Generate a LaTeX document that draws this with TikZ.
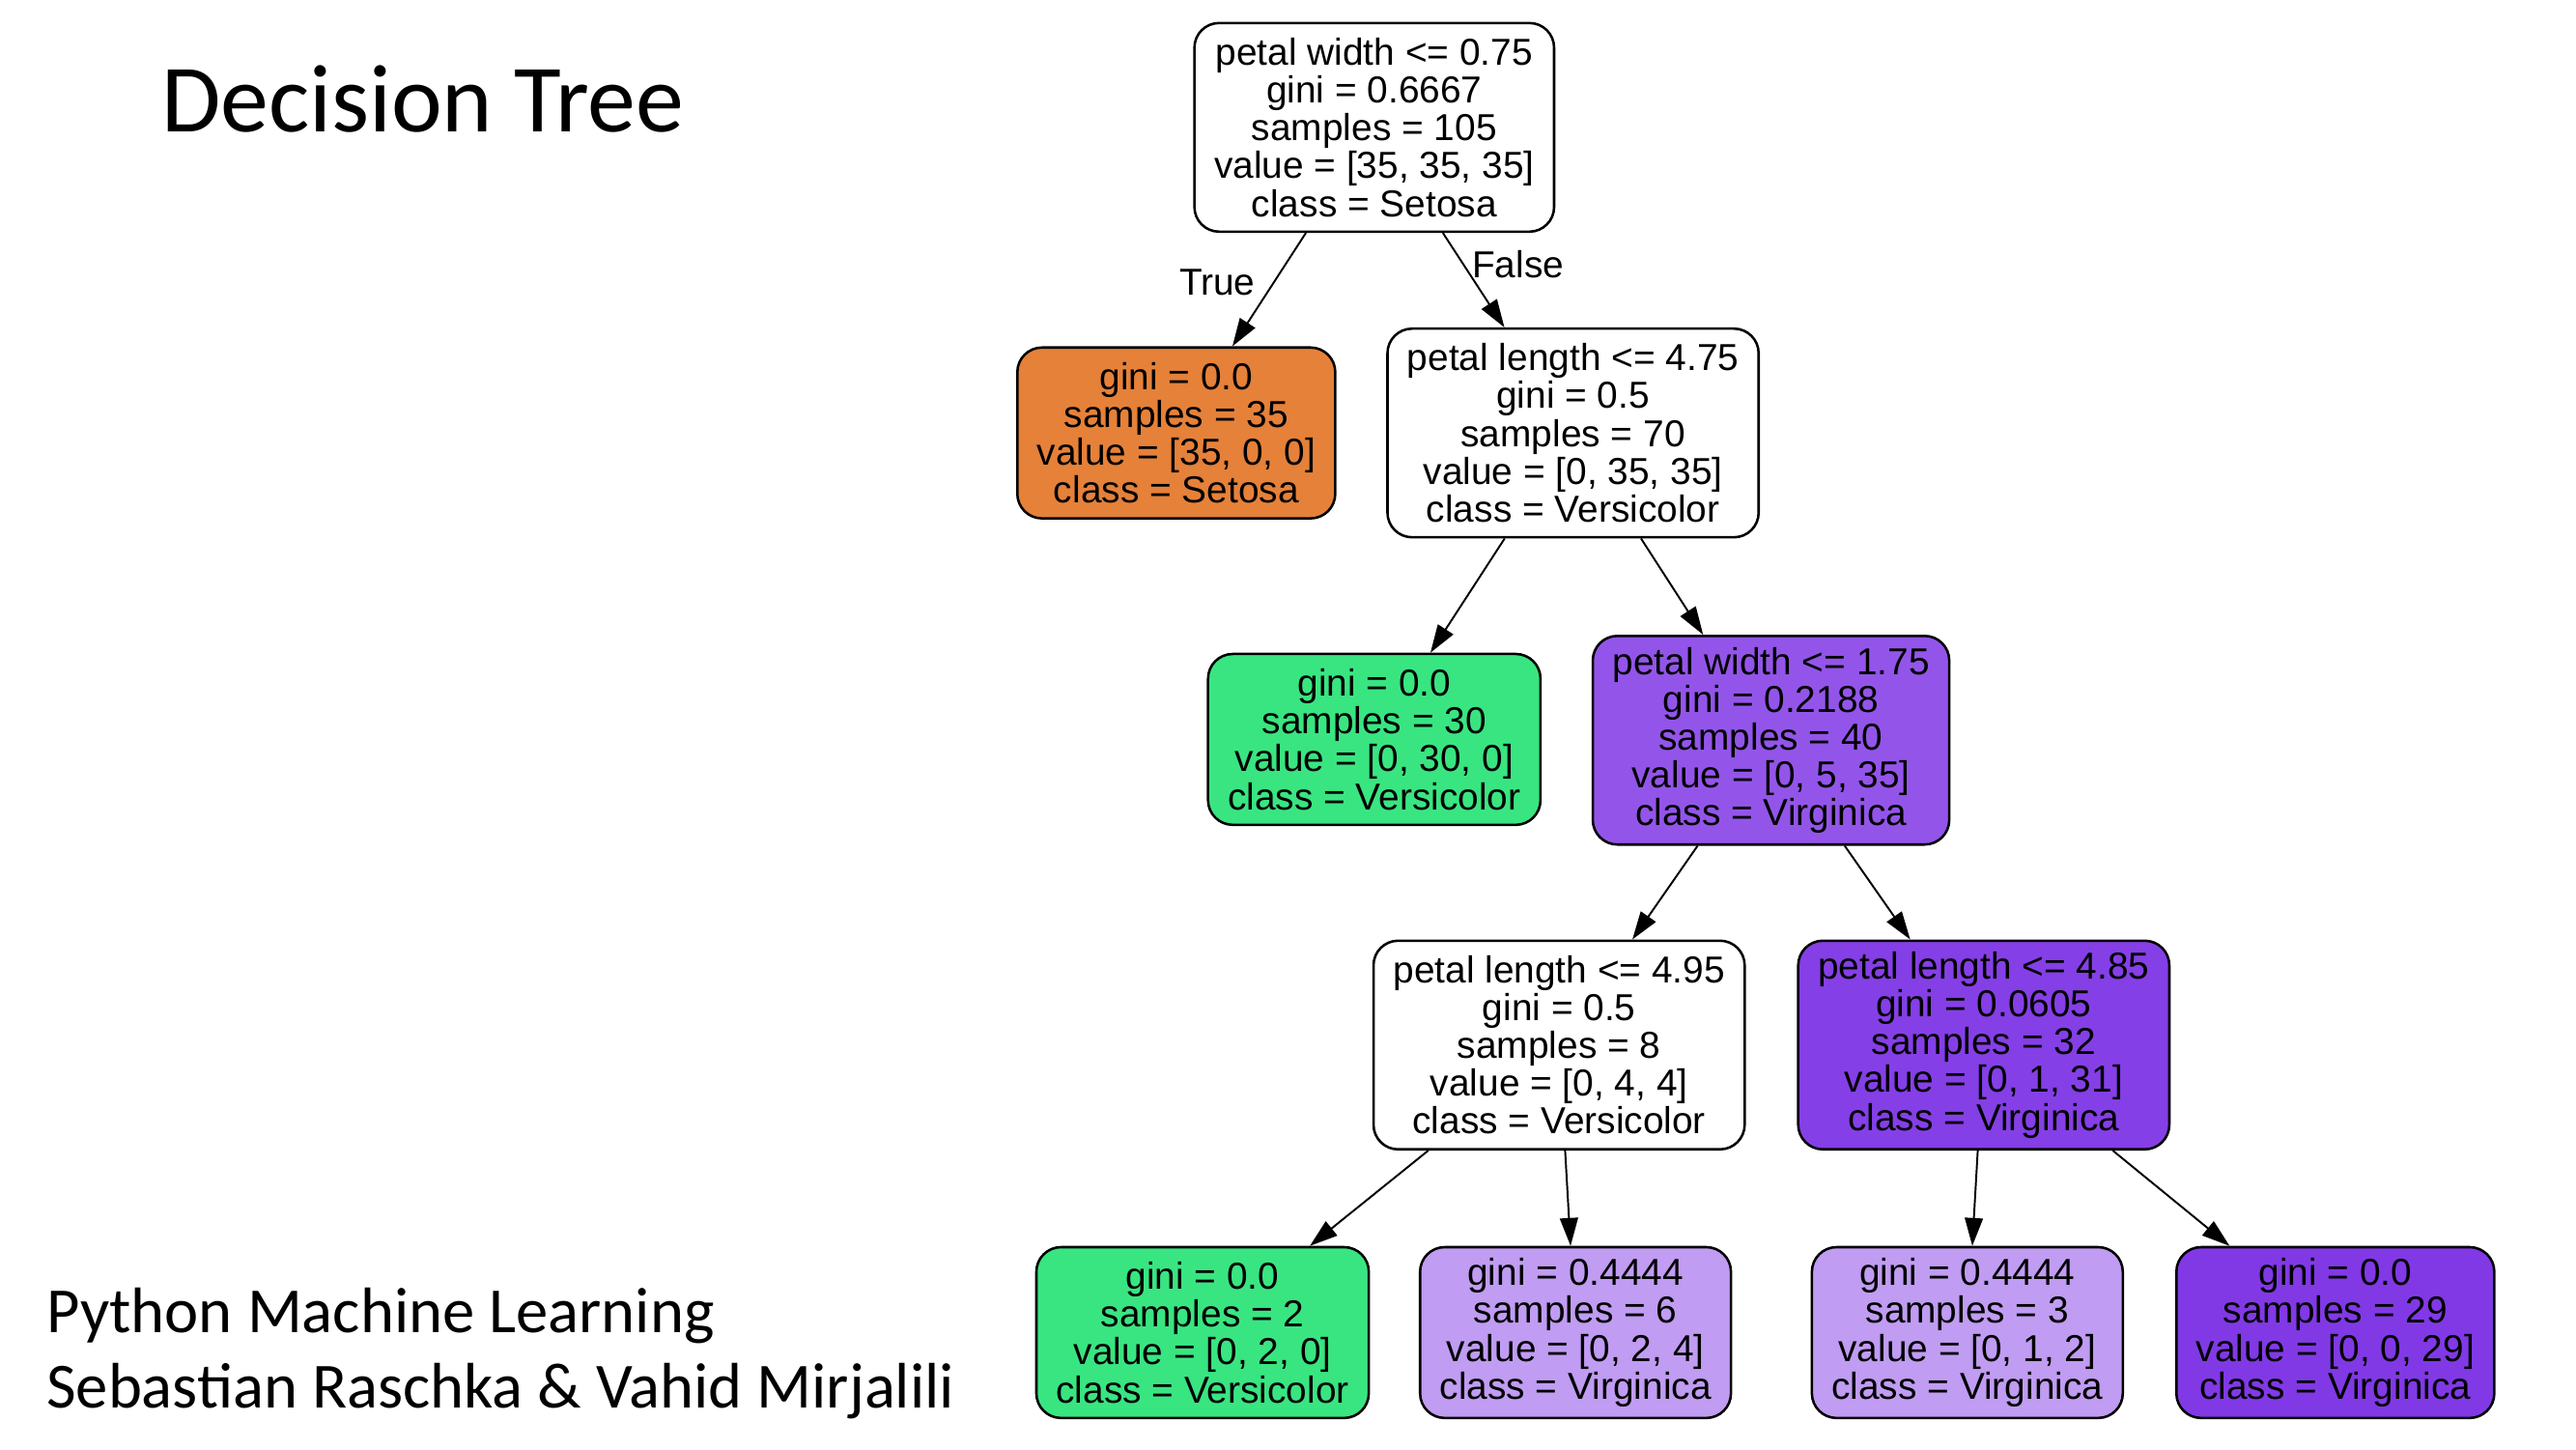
\documentclass[tikz,border=0pt]{standalone}
\usepackage{fontspec}
\usepackage{tikz}
\usetikzlibrary{arrows.meta}

\newfontfamily\treefont{Liberation Sans}
\newfontfamily\slidefont{Carlito}

\definecolor{setosa}{RGB}{229,129,57}
\definecolor{versi}{RGB}{57,229,129}
\definecolor{virgA}{RGB}{147,85,233}
\definecolor{virgB}{RGB}{133,63,230}
\definecolor{virgC}{RGB}{192,156,242}
\definecolor{virgD}{RGB}{129,57,229}

\tikzset{
  tnode/.style={draw, line width=0.85pt, rounded corners=0.3cm, align=center,
    inner xsep=0.24cm, inner ysep=0.04cm,
    execute at begin node={\rule{0pt}{12pt}},
    font=\treefont\fontsize{13pt}{13.1pt}\selectfont},
  testbox/.style={tnode, minimum height=2.54cm},
  leafbox/.style={tnode, minimum height=2.08cm},
  arr/.style={-{Triangle[length=0.34cm,width=0.22cm]}, line width=0.65pt},
  lbl/.style={inner sep=1pt, font=\treefont\fontsize{13pt}{13.1pt}\selectfont},
}

\begin{document}
\begin{tikzpicture}[x=0.02cm,y=-0.02cm]
  \useasboundingbox (0,0) rectangle (1568,882);

  %% Slide texts
  \node[anchor=base west, inner sep=0, font=\slidefont\fontsize{33.4pt}{40pt}\selectfont]
    (title) at (98,80) {Decision Tree};
  \node[anchor=base west, inner sep=0, font=\slidefont\fontsize{22.3pt}{26pt}\selectfont]
    (book) at (28,811) {Python Machine Learning};
  \node[anchor=base west, inner sep=0, font=\slidefont\fontsize{22.3pt}{26pt}\selectfont]
    (authors) at (28,857) {Sebastian Raschka \& Vahid Mirjalili};

  %% Split nodes
  \node[testbox, fill=white] (root) at (836.5,77.5)
    {petal width <= 0.75\\gini = 0.6667\\samples = 105\\value = [35, 35, 35]\\class = Setosa};
  \node[testbox, fill=white] (n2) at (957.5,263.5)
    {petal length <= 4.75\\gini = 0.5\\samples = 70\\value = [0, 35, 35]\\class = Versicolor};
  \node[testbox, fill=virgA] (n3) at (1078,450.5)
    {petal width <= 1.75\\gini = 0.2188\\samples = 40\\value = [0, 5, 35]\\class = Virginica};
  \node[testbox, fill=white] (n4) at (949,636)
    {petal length <= 4.95\\gini = 0.5\\samples = 8\\value = [0, 4, 4]\\class = Versicolor};
  \node[testbox, fill=virgB] (n5) at (1207.5,636)
    {petal length <= 4.85\\gini = 0.0605\\samples = 32\\value = [0, 1, 31]\\class = Virginica};

  %% Leaves
  \node[leafbox, fill=setosa] (l0) at (716,263.5)
    {gini = 0.0\\samples = 35\\value = [35, 0, 0]\\class = Setosa};
  \node[leafbox, fill=versi] (l1) at (836.5,450)
    {gini = 0.0\\samples = 30\\value = [0, 30, 0]\\class = Versicolor};
  \foreach \name/\x/\col/\txt in {
      l2/732/versi/{gini = 0.0\\samples = 2\\value = [0, 2, 0]\\class = Versicolor},
      l3/959/virgC/{gini = 0.4444\\samples = 6\\value = [0, 2, 4]\\class = Virginica},
      l4/1197.5/virgC/{gini = 0.4444\\samples = 3\\value = [0, 1, 2]\\class = Virginica},
      l5/1421.5/virgD/{gini = 0.0\\samples = 29\\value = [0, 0, 29]\\class = Virginica}}
  {
    \node[leafbox, fill=\col] (\name) at (\x,811) {\txt};
  }

  %% Edges
  \foreach \a/\b in {root/l0,root/n2,n2/l1,n2/n3,n3/n4,n3/n5,n4/l2,n4/l3,n5/l4,n5/l5}
  {
    \draw[arr] (\a) -- (\b);
  }

  \node[lbl] (true) at (741,172) {True};
  \node[lbl] (false) at (924,161) {False};
\end{tikzpicture}
\end{document}
